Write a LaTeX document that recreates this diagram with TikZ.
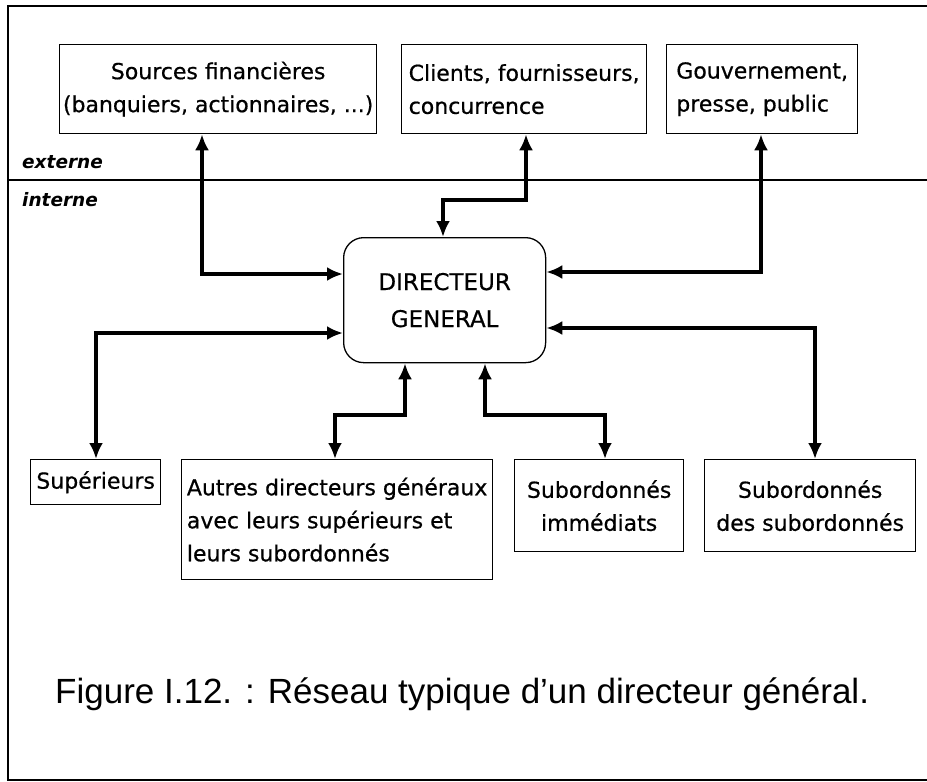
\documentclass[tikz,border=0pt]{standalone}
\usepackage{fontspec}
\setmainfont{DejaVu Sans}
\newfontfamily\boxfont{DejaVu Sans}[FakeBold=0.6]
\newfontfamily\capfont{Liberation Sans}
\usetikzlibrary{arrows.meta}
\tikzset{
  box/.style={draw, line width=1.3pt, inner sep=0pt, anchor=north west,
    font=\boxfont\fontsize{22}{33}\selectfont},
  conn/.style={line width=4.6pt,
    {Latex[length=16pt,width=14pt]}-{Latex[length=16pt,width=14pt]}},
  zone/.style={anchor=base west, inner sep=0pt, font=\fontsize{18.5}{22}\selectfont\bfseries\itshape},
  frame/.style={line width=1.1pt}
}
\begin{document}
\begin{tikzpicture}[x=1pt,y=-1pt]
\useasboundingbox (0,0) rectangle (927,782);
% frame
\draw[frame] (927,6) -- (8,6) -- (8,780) -- (927,780);
\draw[frame] (8,180) -- (927,180);
\node[zone] (ext) at (22,168) {externe};
\node[zone] (int) at (22,206) {interne};
% top boxes
\node[box, align=center, minimum width=317pt, minimum height=89pt] (src) at (59,44)
  {Sources financières\\(banquiers, actionnaires, ...)};
\node[box, align=left, minimum width=245pt, minimum height=89pt] (cli) at (401,44)
  {Clients, fournisseurs,\\concurrence};
\node[box, align=left, minimum width=191pt, minimum height=89pt] (gov) at (666,44)
  {Gouvernement,\\presse, public};
% central
\node[draw, line width=1.3pt, rounded corners=20pt, anchor=north west, inner sep=0pt,
  minimum width=202pt, minimum height=125pt, align=center,
  font=\boxfont\fontsize{23}{37}\selectfont] (dg) at (343,237) {DIRECTEUR\\GENERAL};
% bottom boxes
\node[box, align=center, minimum width=130pt, minimum height=45pt] (sup) at (30,459)
  {Supérieurs};
\node[box, align=left, minimum width=311pt, minimum height=120pt] (aut) at (181,459)
  {Autres directeurs généraux\\avec leurs supérieurs et\\leurs subordonnés};
\node[box, align=center, minimum width=169pt, minimum height=92pt] (imm) at (514,459)
  {Subordonnés\\immédiats};
\node[box, align=center, minimum width=211pt, minimum height=92pt] (ss) at (704,459)
  {Subordonnés\\des subordonnés};
% caption
\node[anchor=base west, inner sep=0pt, font=\capfont\fontsize{35}{40}\selectfont] (cap) at (55,703)
  {Figure I.12. : Réseau typique d’un directeur général.};
% connectors
\draw[conn] (202,0 |- src.south) |- (dg.west |- 0,274);
\draw[conn] (526,0 |- cli.south) -- (526,200) -- (443,200) -- (443,0 |- dg.north);
\draw[conn] (761,0 |- gov.south) |- (dg.east |- 0,272);
\draw[conn] (dg.west |- 0,333) -| (96,0 |- sup.north);
\draw[conn] (405,0 |- dg.south) -- (405,415) -- (335,415) -- (335,0 |- aut.north);
\draw[conn] (485,0 |- dg.south) -- (485,415) -- (605,415) -- (605,0 |- imm.north);
\draw[conn] (dg.east |- 0,328) -| (815,0 |- ss.north);
\end{tikzpicture}
\end{document}
